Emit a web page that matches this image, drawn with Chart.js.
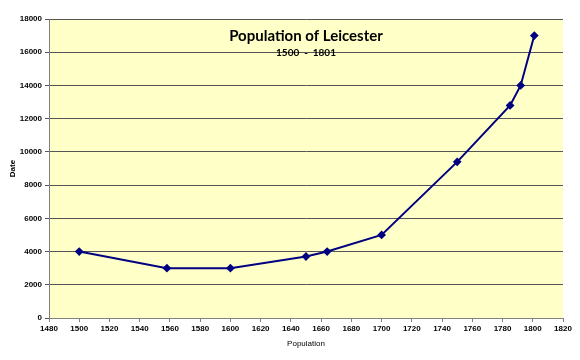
<!DOCTYPE html>
<html>
<head>
<meta charset="utf-8">
<script src="https://cdn.jsdelivr.net/npm/chart.js@4"></script>
<style>
  body { margin: 0; background: #fff; }
  canvas { display: block; }
</style>
</head>
<body>
<canvas id="chart" width="580" height="360"></canvas>
<script>
// datos
const years = [1500, 1558, 1600, 1650, 1664, 1700, 1750, 1785, 1792, 1801];
const population = [4000, 3000, 3000, 3700, 4000, 5000, 9400, 12800, 14000, 17000];
const chartTitle = 'Population of Leicester';
const chartSubtitle = '1500 - 1801';
const xLabel = 'Population';
const yLabel = 'Date';

const points = years.map((y, i) => ({ x: y, y: population[i] }));

// fondo amarillo del área de trazado
const plotBg = {
    id: 'plotBg',
    beforeDraw(chart) {
        const { ctx, chartArea: a } = chart;
        ctx.save();
        ctx.fillStyle = '#FFFFC8';
        ctx.fillRect(a.left, a.top, a.right - a.left, a.bottom - a.top);
        ctx.restore();
    }
};

// título dentro del área
const innerTitle = {
    id: 'innerTitle',
    afterDraw(chart) {
        const { ctx, chartArea: a } = chart;
        const cx = (a.left + a.right) / 2;
        ctx.save();
        ctx.fillStyle = '#000';
        ctx.textAlign = 'center';
        ctx.textBaseline = 'middle';
        ctx.font = 'bold 15px Lato';
        ctx.fillText(chartTitle, cx, a.top + 17);
        ctx.font = 'bold 10px Lato';
        ctx.fillText(chartSubtitle.replace(' - ', '  -  '), cx, a.top + 34);
        ctx.restore();
    }
};

new Chart(document.getElementById('chart'), {
    type: 'scatter',
    data: {
        datasets: [{
            data: points,
            showLine: true,
            borderColor: '#000080',
            backgroundColor: '#000080',
            borderWidth: 2,
            pointStyle: 'rectRot',
            pointRadius: 3,
            tension: 0
        }]
    },
    options: {
        responsive: false,
        animation: false,
        layout: { padding: { top: 19, right: 17, left: 0, bottom: 0 } },
        plugins: {
            legend: { display: false },
            tooltip: { enabled: false }
        },
        scales: {
            x: {
                type: 'linear',
                min: 1480,
                max: 1820,
                afterFit(s) { s.height = 42; },
                ticks: {
                    stepSize: 20,
                    color: '#000',
                    padding: 2,
                    callback: v => String(v),
                    font: { family: 'Liberation Sans', size: 8, weight: 'bold' },
                    maxRotation: 0
                },
                grid: { drawOnChartArea: false, drawTicks: true, tickLength: 4, color: '#808080' },
                border: { color: '#808080', width: 1 },
                title: {
                    display: true,
                    text: xLabel,
                    color: '#000',
                    padding: { top: 0, bottom: 11 },
                    font: { family: 'Liberation Sans', size: 8 }
                }
            },
            y: {
                min: 0,
                max: 18000,
                afterFit(s) { s.width = 49; },
                ticks: {
                    stepSize: 2000,
                    color: '#000',
                    padding: 3,
                    callback: v => String(v),
                    font: { family: 'Liberation Sans', size: 8, weight: 'bold' }
                },
                grid: { color: '#555', lineWidth: 1, tickLength: 4 },
                border: { color: '#808080', width: 1 },
                title: {
                    display: true,
                    text: yLabel,
                    color: '#000',
                    padding: { bottom: 0, top: 8 },
                    font: { family: 'Liberation Sans', size: 8, weight: 'bold' }
                }
            }
        }
    },
    plugins: [plotBg, innerTitle]
});
</script>
</body>
</html>
